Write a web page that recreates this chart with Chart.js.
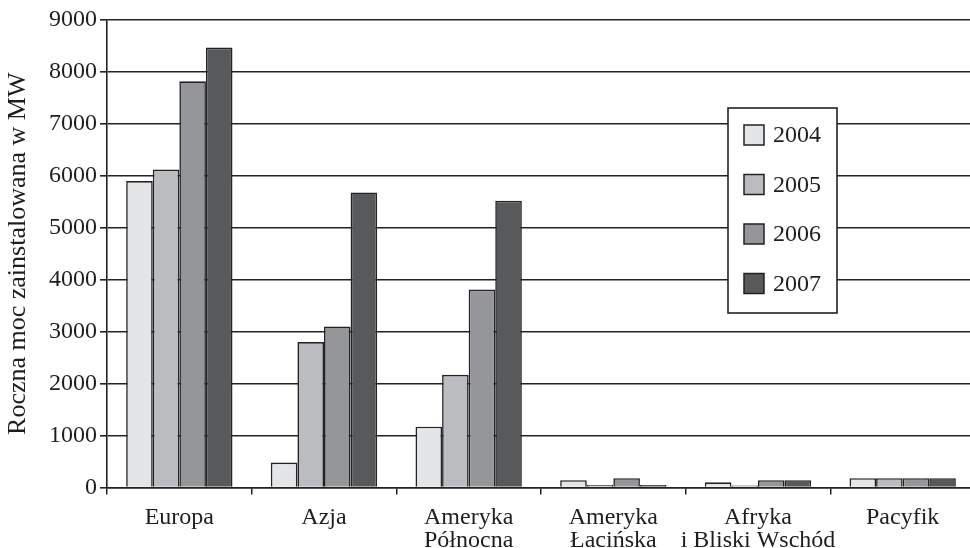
<!DOCTYPE html>
<html>
<head>
<meta charset="utf-8">
<script src="https://cdn.jsdelivr.net/npm/chart.js@4/dist/chart.umd.min.js"></script>
<style>
  html, body { margin: 0; padding: 0; background: #fff; overflow: hidden; }
  #wrap { width: 980px; height: 548px; }
</style>
</head>
<body>
<div id="wrap"><canvas id="c" width="980" height="548"></canvas></div>
<script>
// Roczna moc zainstalowana (MW) w regionach świata, 2004–2007
const categories = ['Europa', 'Azja', ['Ameryka', 'Północna'], ['Ameryka', 'Łacińska'], ['Afryka', 'i Bliski Wschód'], 'Pacyfik'];
const years = ['2004', '2005', '2006', '2007'];
const mw2004 = [5900, 480, 1170, 140, 100, 180];
const mw2005 = [6120, 2800, 2170, 50, 40, 180];
const mw2006 = [7820, 3100, 3810, 180, 140, 180];
const mw2007 = [8470, 5680, 5520, 50, 140, 180];
const yTicks = [0, 1000, 2000, 3000, 4000, 5000, 6000, 7000, 8000, 9000];

const fills = ['#e4e5e7', '#bbbcc0', '#95969a', '#58595b'];
const serif = "'Liberation Serif', 'Times New Roman', serif";
const ink = '#222222';

const series = [mw2004, mw2005, mw2006, mw2007];

// Boxed legend drawn over the grid, inside the plot area
const boxLegend = {
  id: 'boxLegend',
  afterDatasetsDraw(chart) {
    const ctx = chart.ctx;
    const x0 = 728, y0 = 108, w = 109, h = 205;
    ctx.save();
    ctx.fillStyle = '#fff';
    ctx.fillRect(x0, y0, w, h);
    ctx.strokeStyle = ink;
    ctx.lineWidth = 1.6;
    ctx.strokeRect(x0, y0, w, h);
    ctx.font = '24px ' + serif;
    ctx.textBaseline = 'middle';
    ctx.textAlign = 'left';
    chart.data.datasets.forEach((ds, i) => {
      const cy = 135 + i * 49.5;
      ctx.fillStyle = ds.backgroundColor;
      ctx.fillRect(744, cy - 10, 20, 20);
      ctx.lineWidth = 1.5;
      ctx.strokeStyle = ink;
      ctx.strokeRect(744, cy - 10, 20, 20);
      ctx.fillStyle = '#1e1e1e';
      ctx.fillText(ds.label, 773, cy + 1);
    });
    ctx.restore();
  }
};

new Chart(document.getElementById('c'), {
  type: 'bar',
  data: {
    labels: categories,
    datasets: years.map((y, i) => ({
      label: y,
      data: series[i],
      backgroundColor: fills[i],
      borderColor: ink,
      borderWidth: 1.6,
      barPercentage: 1.0,
      categoryPercentage: 0.735
    }))
  },
  options: {
    responsive: false,
    animation: false,
    devicePixelRatio: 1,
    layout: { padding: { top: 20, right: 5, left: 0, bottom: 0 } },
    plugins: { legend: { display: false }, tooltip: { enabled: false } },
    scales: {
      x: {
        grid: {
          offset: true,
          drawOnChartArea: false,
          drawTicks: true,
          tickLength: 7,
          color: ink,
          lineWidth: 1.5
        },
        border: { display: true, color: ink, width: 1.6 },
        ticks: {
          color: '#1e1e1e',
          font: { family: serif, size: 24, lineHeight: 0.95 },
          padding: 12,
          maxRotation: 0,
          autoSkip: false
        },
        afterFit(scale) { scale.height = 60.5; }
      },
      y: {
        min: 0,
        max: 9000,
        afterBuildTicks(scale) { scale.ticks = yTicks.map(v => ({ value: v })); },
        grid: {
          color: ink,
          lineWidth: 1.6,
          drawTicks: true,
          tickLength: 7
        },
        border: { display: true, color: ink, width: 1.6 },
        ticks: {
          color: '#1e1e1e',
          font: { family: serif, size: 24 },
          padding: 3,
          callback: v => String(v)
        },
        title: {
          display: true,
          text: 'Roczna moc zainstalowana w MW',
          color: '#1e1e1e',
          font: { family: serif, size: 26 },
          padding: { top: 3, bottom: 4 }
        },
        afterFit(scale) { scale.width = 107; }
      }
    }
  },
  plugins: [boxLegend]
});
</script>
</body>
</html>
